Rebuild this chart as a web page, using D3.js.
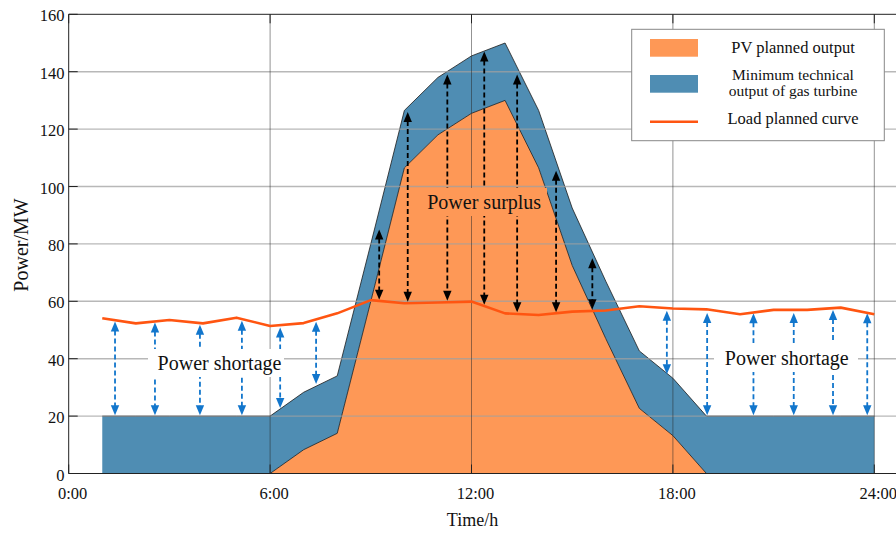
<!DOCTYPE html>
<html>
<head>
<meta charset="utf-8">
<script src="https://cdn.jsdelivr.net/npm/d3@7"></script>
<style>
  html, body { margin: 0; padding: 0; background: #fff; }
  svg { display: block; }
  text { font-family: "Liberation Serif", "Times New Roman", serif; fill: #111; }
</style>
</head>
<body>
<svg id="chart" width="896" height="534"></svg>
<script>
// ---------------- data ----------------
const hours = [1,2,3,4,5,6,7,8,9,10,11,12,13,14,15,16,17,18,19,20,21,22,23,24];
const pvPlanned = [0,0,0,0,0,0,8.3,14,60,106.5,118,125.5,130,106.5,72.5,47,22.7,13.2,0,0,0,0,0,0];
const gasMinOutput = [20,20,20,20,20,20,20,20,20,20,20,20,20,20,20,20,20,20,20,20,20,20,20,20];
const loadPlanned = [54.1,52.3,53.5,52.3,54.3,51.4,52.4,55.8,60.4,59.3,59.6,59.9,55.8,55.2,56.4,56.8,58.3,57.5,57.2,55.5,57.0,57.0,57.8,55.5];

const yTicks = [0,20,40,60,80,100,120,140,160];
const xTicks = [0,6,12,18,24];
const xTickLabels = ["0:00","6:00","12:00","18:00","24:00"];

// surplus arrows (black): hour, top value, bottom value
const surplusArrowHours = [9.25,10.1,11.28,12.38,13.36,14.52,15.6];
const surplusArrowTop = [85,126,139,147,139,105.5,75];
const surplusArrowBottom = [60.5,59.8,60.2,58.8,56.2,56.2,57.2];
// shortage arrows (blue)
const shortageArrowHours = [1.38,2.57,3.91,5.16,6.3,7.37,17.82,19.02,20.4,21.6,22.77,23.79];
const shortageArrowTop = [53,52.6,51.8,53.2,50.9,52.9,56.7,55.9,55.8,55.9,57,55.8];
const shortageArrowBottom = [20.3,20.3,20.3,20.3,22.8,31.2,34.6,20.3,20.3,20.3,20.3,20.3];

const legendLabels = [["PV planned output"],["Minimum technical","output of gas turbine"],["Load planned curve"]];

// ---------------- layout ----------------
const svg = d3.select("#chart");
const L = 68.7, R = 874.3, T = 14.3, B = 473.5, axisRight = 905;
const x = d3.scaleLinear().domain([0,24]).range([L,R]);
const y = d3.scaleLinear().domain([0,160]).range([B,T]);

const ORANGE = "#FE9856";
const BLUE = "#4F8DB3";
const LOADC = "#FF5511";
const ARROWBLUE = "#1276CC";

const rows = hours.map((h,i)=>({h, pv:pvPlanned[i], gas:gasMinOutput[i], load:loadPlanned[i]}));

// areas
const pvRows = rows.filter(d => d.h >= 6);
svg.append("path").datum(pvRows)
  .attr("d", d3.area().x(d=>x(d.h)).y0(y(0)).y1(d=>y(d.pv)))
  .attr("fill", ORANGE);
svg.append("path").datum(rows)
  .attr("d", d3.area().x(d=>x(d.h)).y0(d=>y(d.pv)).y1(d=>y(d.pv+d.gas)))
  .attr("fill", BLUE);
// edges
svg.append("path").datum(rows)
  .attr("d", d3.line().x(d=>x(d.h)).y(d=>y(d.pv+d.gas)))
  .attr("fill","none").attr("stroke","#1a1a1a").attr("stroke-width",0.8);
svg.append("path").datum(rows.filter(d=>d.h>=6 && d.h<=19))
  .attr("d", d3.line().x(d=>x(d.h)).y(d=>y(d.pv)))
  .attr("fill","none").attr("stroke","#1a1a1a").attr("stroke-width",0.8);

// grid (on top, semi-transparent)
const grid = svg.append("g");
grid.selectAll("line.h").data(yTicks.filter(v=>v>0 && v<160)).join("line")
  .attr("x1",L).attr("x2",axisRight).attr("y1",d=>y(d)).attr("y2",d=>y(d))
  .attr("stroke","rgb(160,160,160)").attr("stroke-opacity",0.75).attr("stroke-width",1.4);
grid.selectAll("line.v").data(xTicks.filter(v=>v>0)).join("line")
  .attr("x1",d=>x(d)).attr("x2",d=>x(d)).attr("y1",T).attr("y2",B)
  .attr("stroke","rgb(40,40,40)").attr("stroke-opacity",0.5).attr("stroke-width",1);

// arrows
function arrow(g, xh, vTop, vBot, color, width, dash) {
  const px = x(xh), yt = y(vTop), yb = y(vBot);
  const hl = 10, hw = 4.2;
  g.append("line").attr("x1",px).attr("x2",px).attr("y1",yt+hl-1).attr("y2",yb-hl+1)
    .attr("stroke",color).attr("stroke-width",width).attr("stroke-dasharray",dash);
  g.append("path").attr("d",`M${px},${yt}L${px-hw},${yt+hl}L${px+hw},${yt+hl}Z`).attr("fill",color);
  g.append("path").attr("d",`M${px},${yb}L${px-hw},${yb-hl}L${px+hw},${yb-hl}Z`).attr("fill",color);
}
const ag = svg.append("g");
surplusArrowHours.forEach((h,i)=>arrow(ag,h,surplusArrowTop[i],surplusArrowBottom[i],"#000",1.8,"5,3"));
shortageArrowHours.forEach((h,i)=>arrow(ag,h,shortageArrowTop[i],shortageArrowBottom[i],ARROWBLUE,1.8,"5,3"));

// load line
svg.append("path").datum(rows)
  .attr("d", d3.line().x(d=>x(d.h)).y(d=>y(d.load)))
  .attr("fill","none").attr("stroke",LOADC).attr("stroke-width",2.6).attr("stroke-linejoin","round");

// annotation labels
function label(cx, baseY, txt, bg, bx0, bx1, by0, by1) {
  svg.append("rect").attr("x",bx0).attr("y",by0).attr("width",bx1-bx0).attr("height",by1-by0).attr("fill",bg);
  svg.append("text").attr("x",cx).attr("y",baseY).attr("text-anchor","middle")
    .attr("font-size",20).text(txt);
}
label(219.5, 370, "Power shortage", "#fff", 148, 284, 349, 377);
label(786.8, 364.5, "Power shortage", "#fff", 714, 858, 343, 372);
label(484.2, 208.5, "Power surplus", ORANGE, 420, 547, 188, 216);

// axes
const ax = svg.append("g").attr("stroke","#222").attr("stroke-width",1);
ax.append("line").attr("x1",L).attr("x2",L).attr("y1",T).attr("y2",B);
ax.append("line").attr("x1",L).attr("x2",axisRight).attr("y1",B).attr("y2",B);
ax.append("line").attr("x1",L).attr("x2",axisRight).attr("y1",T).attr("y2",T);
yTicks.forEach(v=>ax.append("line").attr("x1",L).attr("x2",L+9).attr("y1",y(v)).attr("y2",y(v)));
xTicks.forEach(v=>{
  ax.append("line").attr("x1",x(v)).attr("x2",x(v)).attr("y1",B).attr("y2",B-9);
  ax.append("line").attr("x1",x(v)).attr("x2",x(v)).attr("y1",T).attr("y2",T+9);
});

svg.append("g").selectAll("text").data(yTicks).join("text")
  .attr("x",64.5).attr("y",d=>y(d)+7).attr("text-anchor","end").attr("font-size",16.5)
  .attr("fill","#1a1a1a").text(d=>d);
svg.append("g").selectAll("text").data(xTicks).join("text")
  .attr("x",d=>x(d)+4).attr("y",499).attr("text-anchor","middle").attr("font-size",16.5)
  .attr("fill","#1a1a1a").text((d,i)=>xTickLabels[i]);

svg.append("text").attr("x",472.5).attr("y",526).attr("text-anchor","middle")
  .attr("font-size",18).text("Time/h");
svg.append("text").attr("transform","translate(28,245) rotate(-90)").attr("text-anchor","middle")
  .attr("font-size",20).text("Power/MW");

// legend
const lg = svg.append("g");
lg.append("rect").attr("x",631.7).attr("y",29.3).attr("width",252.6).attr("height",111.4)
  .attr("fill","#fff").attr("stroke","#888").attr("stroke-width",1);
lg.append("rect").attr("x",650).attr("y",39).attr("width",48).attr("height",17.7).attr("fill",ORANGE);
lg.append("rect").attr("x",650).attr("y",75).attr("width",48).attr("height",17.7).attr("fill",BLUE);
lg.append("line").attr("x1",650).attr("x2",698).attr("y1",121.7).attr("y2",121.7)
  .attr("stroke",LOADC).attr("stroke-width",2.6);
const legendBase = [[53.3],[80.2,95.6],[124.3]];
legendLabels.forEach((lines,i)=>lines.forEach((t,j)=>{
  lg.append("text").attr("x",793).attr("y",legendBase[i][j]).attr("text-anchor","middle")
    .attr("font-size",i===1 ? 15.5 : 16.5).text(t);
}));
</script>
</body>
</html>
